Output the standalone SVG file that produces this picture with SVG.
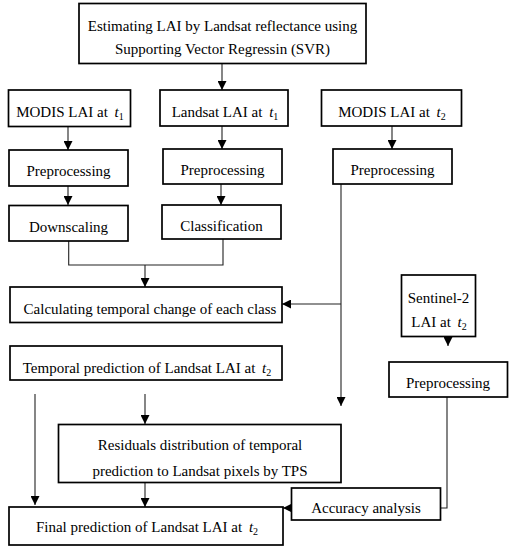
<svg xmlns="http://www.w3.org/2000/svg" width="512" height="550" viewBox="0 0 512 550">
<style>
.box{fill:#fff;stroke:#000;stroke-width:1.7}
.t{font-family:"Liberation Serif","Times New Roman",serif;font-size:15px;fill:#000;text-anchor:middle}
.i{font-style:italic}
.s{font-size:10px}
.c{fill:none;stroke:#222;stroke-width:1.1}
</style>
<defs>
<marker id="ah" markerUnits="userSpaceOnUse" markerWidth="9" markerHeight="9" refX="9" refY="4.5" orient="auto">
<path d="M0,0 L9,4.5 L0,9 z" fill="#000"/>
</marker>
</defs>
<rect width="512" height="550" fill="#fff"/>
<g id="connectors">
<line class="c" x1="222" y1="63" x2="222" y2="90" marker-end="url(#ah)"/>
<line class="c" x1="68" y1="127" x2="68" y2="150" marker-end="url(#ah)"/>
<line class="c" x1="222" y1="126" x2="222" y2="149" marker-end="url(#ah)"/>
<line class="c" x1="392" y1="126" x2="392" y2="149" marker-end="url(#ah)"/>
<line class="c" x1="68" y1="186" x2="68" y2="205" marker-end="url(#ah)"/>
<line class="c" x1="221" y1="184" x2="221" y2="205" marker-end="url(#ah)"/>
<polyline class="c" points="68.7,241 68.7,265 223,265 223,239"/>
<line class="c" x1="145" y1="265" x2="145" y2="287" marker-end="url(#ah)"/>
<line class="c" x1="341" y1="184" x2="341" y2="406" marker-end="url(#ah)"/>
<line class="c" x1="341" y1="304" x2="282" y2="304" marker-end="url(#ah)"/>
<line class="c" x1="448" y1="337" x2="448" y2="346" marker-end="url(#ah)"/>
<line class="c" x1="35" y1="394" x2="35" y2="505" marker-end="url(#ah)"/>
<line class="c" x1="145" y1="394" x2="145" y2="424" marker-end="url(#ah)"/>
<line class="c" x1="145" y1="483" x2="145" y2="507" marker-end="url(#ah)"/>
<polyline class="c" points="447,397 447,508 441,508"/>
<line class="c" x1="291.5" y1="508" x2="283" y2="508" marker-end="url(#ah)"/>
</g>
<g id="n_svr">
<rect class="box" x="79" y="3.5" width="287" height="60"/>
<text class="t" x="222.5" y="31">Estimating LAI by Landsat reflectance using</text>
<text class="t" x="222.5" y="54">Supporting Vector Regressin (SVR)</text>
</g>
<g id="n_modis1">
<rect class="box" x="8.5" y="90" width="122" height="36.5"/>
<text class="t" x="70" y="117">MODIS LAI at <tspan class="i" dx="3">t</tspan><tspan class="s" dy="3">1</tspan></text>
</g>
<g id="n_landsat1">
<rect class="box" x="160" y="90" width="128" height="36"/>
<text class="t" x="225" y="117">Landsat LAI at <tspan class="i" dx="3">t</tspan><tspan class="s" dy="3">1</tspan></text>
</g>
<g id="n_modis2">
<rect class="box" x="321.5" y="90" width="140" height="36"/>
<text class="t" x="392" y="117">MODIS LAI at <tspan class="i" dx="3">t</tspan><tspan class="s" dy="3">2</tspan></text>
</g>
<g id="n_pre1">
<rect class="box" x="9" y="150" width="119" height="36"/>
<text class="t" x="68.5" y="176">Preprocessing</text>
</g>
<g id="n_pre2">
<rect class="box" x="163" y="149" width="119" height="35"/>
<text class="t" x="222.5" y="175">Preprocessing</text>
</g>
<g id="n_pre3">
<rect class="box" x="333" y="149" width="119" height="35"/>
<text class="t" x="392.5" y="175">Preprocessing</text>
</g>
<g id="n_down">
<rect class="box" x="9" y="205.5" width="119" height="35.5"/>
<text class="t" x="68.5" y="232">Downscaling</text>
</g>
<g id="n_class">
<rect class="box" x="162" y="205" width="119" height="34"/>
<text class="t" x="221.5" y="231">Classification</text>
</g>
<g id="n_calc">
<rect class="box" x="10" y="287" width="272" height="35.5"/>
<text class="t" x="150" y="314">Calculating temporal change of each class</text>
</g>
<g id="n_sentinel">
<rect class="box" x="401.5" y="275" width="74" height="61.5"/>
<text class="t" x="438.5" y="303">Sentinel-2</text>
<text class="t" x="439" y="327">LAI at <tspan class="i" dx="3">t</tspan><tspan class="s" dy="3">2</tspan></text>
</g>
<g id="n_temporal">
<rect class="box" x="10" y="346" width="272" height="34"/>
<text class="t" x="147" y="373">Temporal prediction of Landsat LAI at <tspan class="i" dx="3">t</tspan><tspan class="s" dy="3">2</tspan></text>
</g>
<g id="n_pre4">
<rect class="box" x="389" y="362" width="118.5" height="35"/>
<text class="t" x="448" y="388">Preprocessing</text>
</g>
<g id="n_resid">
<rect class="box" x="58.5" y="424.5" width="282.5" height="58"/>
<text class="t" x="200" y="450">Residuals distribution of temporal</text>
<text class="t" x="200" y="476">prediction to Landsat pixels by TPS</text>
</g>
<g id="n_acc">
<rect class="box" x="291.5" y="488" width="149" height="32"/>
<text class="t" x="366" y="513">Accuracy analysis</text>
</g>
<g id="n_final">
<rect class="box" x="9" y="507" width="274" height="38"/>
<text class="t" x="147" y="532">Final prediction of Landsat LAI at <tspan class="i" dx="3">t</tspan><tspan class="s" dy="3">2</tspan></text>
</g>
</svg>
